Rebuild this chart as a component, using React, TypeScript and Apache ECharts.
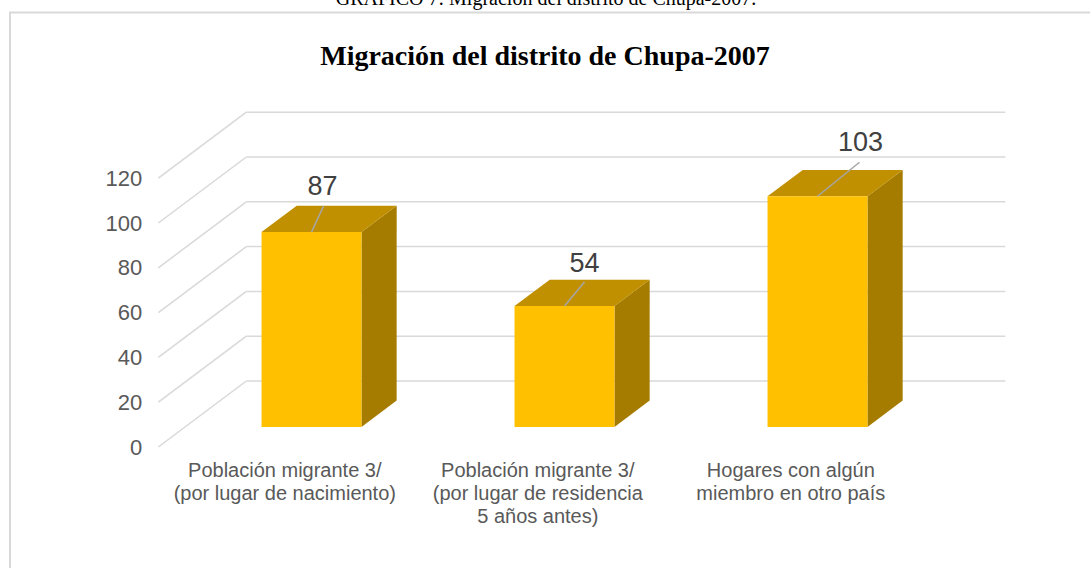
import React, { useEffect, useRef } from "react";
import * as echarts from "echarts";

const categories = [
  "Población migrante 3/\n(por lugar de nacimiento)",
  "Población migrante 3/\n(por lugar de residencia\n5 años antes)",
  "Hogares con algún\nmiembro en otro país",
];
const values = [87, 54, 103];
const yTicks = [0, 20, 40, 60, 80, 100, 120];
const chartTitle = "Migración del distrito de Chupa-2007";
const captionText = "GRÁFICO 7: Migración del distrito de Chupa-2007.";

// styling / layout constants
const DEPTH = [88, -66]; // floor depth vector (front -> back wall)
const BAR_FRONT = 0.303; // fraction of depth where bar front face sits
const BAR_DEPTH = 0.4; // fraction of depth the bars occupy
const labelOffsets = [
  [11, -46],
  [20, -43],
  [43, -54],
];
const leaderEnds = [
  [12, -26],
  [20, -24],
  [42, -34],
];
const SANS = "'Liberation Sans', Arial, sans-serif";
const SERIF = "'Liberation Serif', 'Times New Roman', serif";

export default function App() {
  const ref = useRef<HTMLDivElement>(null);
  useEffect(() => {
    if (!ref.current) return;
    const chart = echarts.init(ref.current, undefined, { renderer: "svg" });
    const frontShift = [-DEPTH[0] * BAR_FRONT, -DEPTH[1] * BAR_FRONT];
    const backShift = [DEPTH[0] * (1 - BAR_FRONT), DEPTH[1] * (1 - BAR_FRONT)];
    const bd = [DEPTH[0] * BAR_DEPTH, DEPTH[1] * BAR_DEPTH];

    const option: any = {
      animation: false,
      backgroundColor: "#ffffff",
      title: {
        text: chartTitle,
        left: "center",
        top: 36,
        textStyle: {
          fontFamily: SERIF,
          fontWeight: "bold",
          fontSize: 28,
          color: "#000000",
        },
      },
      graphic: [
        {
          type: "rect",
          shape: { x: 10, y: 12.5, width: 1200, height: 700 },
          style: { fill: "none", stroke: "#D9D9D9", lineWidth: 2 },
          silent: true,
        },
        {
          type: "text",
          x: 546,
          y: 8,
          style: {
            text: captionText,
            align: "center",
            verticalAlign: "bottom",
            fontFamily: SERIF,
            fontSize: 20,
            fill: "#000000",
          },
          silent: true,
        },
      ],
      grid: [
        { left: 185, top: 158.2, width: 759, height: 268.8, outerBoundsMode: "none" },
        { left: 158.3, top: 178.2, width: 759, height: 268.8, outerBoundsMode: "none" },
      ],
      xAxis: [
        { type: "category", data: categories, gridIndex: 0, show: false },
        {
          type: "category",
          data: categories,
          gridIndex: 1,
          axisLine: { show: false },
          axisTick: { show: false },
          splitLine: { show: false },
          axisLabel: {
            interval: 0,
            margin: 11,
            fontFamily: SANS,
            fontSize: 20,
            lineHeight: 23,
            color: "#595959",
            align: "center",
          },
        },
      ],
      yAxis: [
        { type: "value", gridIndex: 0, min: 0, max: 120, interval: 20, show: false },
        {
          type: "value",
          gridIndex: 1,
          min: 0,
          max: 120,
          interval: 20,
          axisLine: { show: false },
          axisTick: { show: false },
          splitLine: { show: false },
          axisLabel: {
            margin: 16,
            fontFamily: SANS,
            fontSize: 22,
            color: "#595959",
          },
        },
      ],
      series: [
        {
          type: "custom",
          name: "walls",
          xAxisIndex: 0,
          yAxisIndex: 0,
          clip: false,
          z: 1,
          silent: true,
          data: yTicks.map((v) => [0, v]),
          renderItem: (params: any, api: any) => {
            const cs = params.coordSys;
            const py = api.coord([0, api.value(1)])[1];
            const fx = cs.x + frontShift[0];
            const fy = py + frontShift[1];
            const bx = cs.x + backShift[0];
            const by = py + backShift[1];
            const ex = cs.x + cs.width + backShift[0];
            const st = { stroke: "#D9D9D9", lineWidth: 1.5 };
            return {
              type: "group",
              children: [
                { type: "line", shape: { x1: fx, y1: fy, x2: bx, y2: by }, style: st },
                { type: "line", shape: { x1: bx, y1: by, x2: ex, y2: by }, style: st },
              ],
            };
          },
        },
        {
          type: "custom",
          name: "bars",
          xAxisIndex: 0,
          yAxisIndex: 0,
          clip: false,
          z: 2,
          data: values.map((v, i) => [i, v]),
          renderItem: (params: any, api: any) => {
            const i = api.value(0);
            const v = api.value(1);
            const top = api.coord([i, v]);
            const base = api.coord([i, 0]);
            const w = api.size([1, 0])[0] * 0.395;
            const x0 = top[0] - w / 2;
            const x1 = top[0] + w / 2;
            const ty = top[1];
            const byy = base[1];
            const lo = labelOffsets[params.dataIndex];
            const le = leaderEnds[params.dataIndex];
            return {
              type: "group",
              children: [
                {
                  type: "polygon",
                  shape: {
                    points: [
                      [x1, ty],
                      [x1 + bd[0], ty + bd[1]],
                      [x1 + bd[0], byy + bd[1]],
                      [x1, byy],
                    ],
                  },
                  style: { fill: "#A67C00" },
                },
                {
                  type: "polygon",
                  shape: {
                    points: [
                      [x0, ty],
                      [x1, ty],
                      [x1 + bd[0], ty + bd[1]],
                      [x0 + bd[0], ty + bd[1]],
                    ],
                  },
                  style: { fill: "#C09000" },
                },
                {
                  type: "rect",
                  shape: { x: x0, y: ty, width: w, height: byy - ty },
                  style: { fill: "#FFC000" },
                },
                {
                  type: "line",
                  shape: { x1: top[0], y1: ty, x2: top[0] + le[0], y2: ty + le[1] },
                  style: { stroke: "#A6A6A6", lineWidth: 1.5 },
                },
                {
                  type: "text",
                  x: top[0] + lo[0],
                  y: ty + lo[1],
                  style: {
                    text: String(v),
                    align: "center",
                    verticalAlign: "middle",
                    fontFamily: SANS,
                    fontSize: 27,
                    fill: "#404040",
                  },
                },
              ],
            };
          },
        },
      ],
    };
    chart.setOption(option);
    return () => chart.dispose();
  }, []);
  return (
    <div
      ref={ref}
      style={{ position: "fixed", left: 0, top: 0, width: 1090, height: 568, background: "#fff" }}
    />
  );
}
